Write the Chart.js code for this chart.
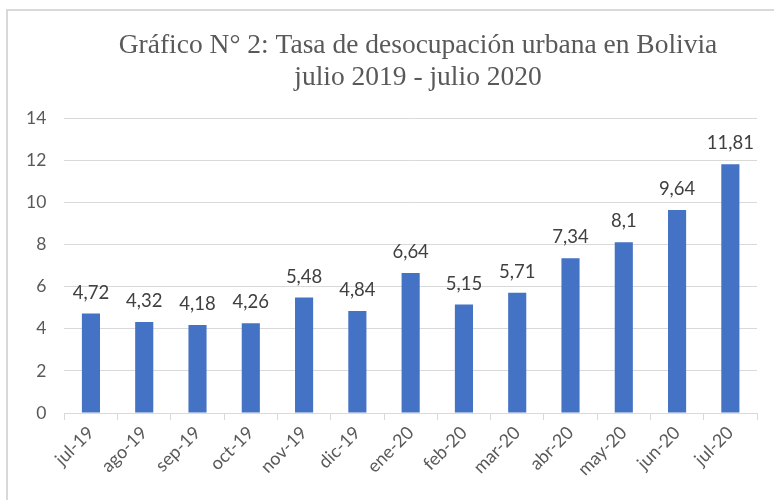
<!DOCTYPE html>
<html>
<head>
<meta charset="utf-8">
<script src="https://cdn.jsdelivr.net/npm/chart.js@4/dist/chart.umd.min.js"></script>
<style>
  html, body { margin: 0; padding: 0; background: #fff; overflow: hidden; width: 774px; height: 500px; }
  #frame { position: absolute; left: 6px; top: 9px; width: 900px; height: 600px; border: 2px solid #d9d9d9; box-sizing: border-box; }
  #wrap { position: absolute; left: 0; top: 0; width: 774px; height: 500px; }
</style>
</head>
<body>
<div id="frame"></div>
<div id="wrap"><canvas id="c" width="774" height="500"></canvas></div>
<script>
const categories = ["jul-19","ago-19","sep-19","oct-19","nov-19","dic-19","ene-20","feb-20","mar-20","abr-20","may-20","jun-20","jul-20"];
const values = [4.72, 4.32, 4.18, 4.26, 5.48, 4.84, 6.64, 5.15, 5.71, 7.34, 8.1, 9.64, 11.81];
const titleLines = ["Gráfico N° 2: Tasa de desocupación urbana en Bolivia", "julio 2019 - julio 2020"];
const yTicks = { min: 0, max: 14, step: 2 };

const titlePlugin = {
  id: 'customTitle',
  afterDraw(chart) {
    const ctx = chart.ctx;
    ctx.save();
    ctx.font = '27.5px "Liberation Serif"';
    ctx.fillStyle = '#595959';
    ctx.textAlign = 'center';
    ctx.textBaseline = 'alphabetic';
    ctx.fillText(titleLines[0], 418, 53);
    ctx.fillText(titleLines[1], 418, 85);
    ctx.restore();
  }
};

const dataLabels = {
  id: 'dataLabels',
  afterDatasetsDraw(chart) {
    const ctx = chart.ctx;
    const meta = chart.getDatasetMeta(0);
    ctx.save();
    ctx.font = '18.5px Lato';
    ctx.fillStyle = '#404040';
    ctx.textAlign = 'center';
    ctx.textBaseline = 'alphabetic';
    meta.data.forEach((bar, i) => {
      const txt = String(values[i]).replace('.', ',');
      ctx.fillText(txt, bar.x, bar.y - 15);
    });
    ctx.restore();
  }
};

new Chart(document.getElementById('c'), {
  type: 'bar',
  data: {
    labels: categories,
    datasets: [{
      data: values,
      backgroundColor: '#4472C4',
      borderWidth: 0,
      barPercentage: 0.34,
      categoryPercentage: 1
    }]
  },
  options: {
    responsive: false,
    animation: false,
    devicePixelRatio: 1,
    layout: { padding: { left: 8, right: 17, top: 118, bottom: 18 } },
    plugins: {
      legend: { display: false },
      tooltip: { enabled: false },
      title: { display: false }
    },
    scales: {
      x: {
        grid: { display: true, drawOnChartArea: false, drawTicks: true, tickLength: 7, color: '#d9d9d9', offset: true },
        border: { display: true, color: '#d9d9d9' },
        ticks: {
          color: '#595959',
          font: { family: 'Lato', size: 18 },
          minRotation: 45, maxRotation: 45,
          padding: 2
        }
      },
      y: {
        min: yTicks.min, max: yTicks.max,
        grid: { color: '#d9d9d9', drawTicks: false, lineWidth: 1 },
        border: { display: false },
        ticks: {
          stepSize: yTicks.step,
          color: '#595959',
          font: { family: 'Lato', size: 17.5 },
          padding: 18
        }
      }
    }
  },
  plugins: [dataLabels, titlePlugin]
});
</script>
</body>
</html>
